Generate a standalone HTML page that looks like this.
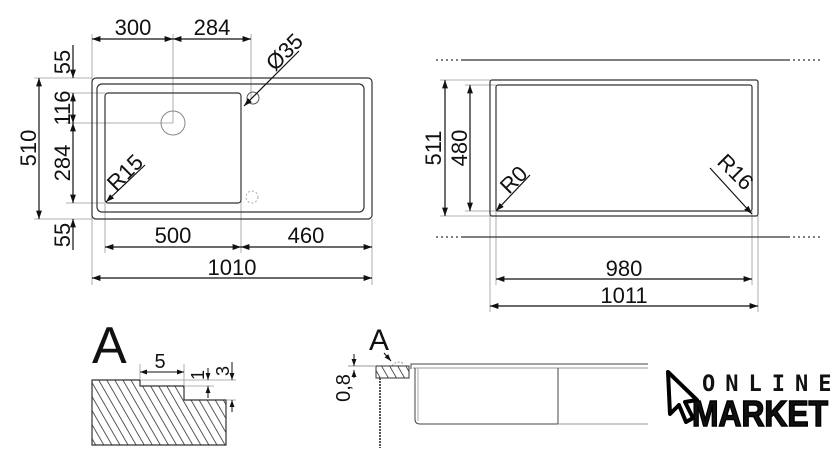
<!DOCTYPE html>
<html><head><meta charset="utf-8"><style>
body{margin:0;background:#fff;width:840px;height:470px;overflow:hidden}
svg{display:block}
text{font-family:"Liberation Sans",sans-serif;fill:#111}
</style></head><body>
<svg width="840" height="470" viewBox="0 0 840 470" xmlns="http://www.w3.org/2000/svg">
<defs>
<marker id="a" viewBox="0 0 10 10" refX="10" refY="5" markerWidth="7" markerHeight="7" orient="auto-start-reverse"><path d="M0,1.5 L10,5 L0,8.5z" fill="#111"/></marker>
<pattern id="h" width="7" height="7" patternUnits="userSpaceOnUse" patternTransform="rotate(-30)"><line x1="0" y1="0" x2="0" y2="7" stroke="#222" stroke-width="1.5"/></pattern>
</defs>
<g fill="none" stroke="#999" stroke-width="0.8">
<line x1="92" y1="34" x2="92" y2="285"/><line x1="173" y1="34" x2="173" y2="123"/><line x1="251" y1="34" x2="251" y2="98"/>
<line x1="66" y1="123" x2="173" y2="123"/><line x1="66" y1="93" x2="105" y2="93"/><line x1="66" y1="203" x2="105" y2="203"/>
<line x1="34" y1="78" x2="92" y2="78"/><line x1="34" y1="219" x2="92" y2="219"/>
<line x1="105" y1="203" x2="105" y2="253"/><line x1="241" y1="110" x2="241" y2="253"/><line x1="372" y1="219" x2="372" y2="285"/>
<line x1="440" y1="80" x2="490" y2="80"/><line x1="440" y1="216" x2="490" y2="216"/><line x1="465" y1="85" x2="496" y2="85"/><line x1="465" y1="211" x2="496" y2="211"/>
<line x1="490" y1="216" x2="490" y2="312"/><line x1="758" y1="216" x2="758" y2="312"/><line x1="496" y1="211" x2="496" y2="285"/><line x1="752" y1="211" x2="752" y2="285"/>
</g>
<g fill="none" stroke="#333" stroke-width="1.2">
<rect x="92" y="78" width="280" height="141" rx="4"/>
<rect x="97" y="84" width="267" height="128" rx="5"/>
<rect x="105" y="93" width="136" height="110" rx="3"/>
<rect x="490" y="80" width="268" height="136" rx="2"/>
<rect x="496" y="85" width="256" height="126" rx="2"/>
</g>
<circle cx="173" cy="123" r="12" fill="none" stroke="#888"/>
<circle cx="253" cy="98" r="6" fill="none" stroke="#555"/>
<circle cx="252" cy="197" r="6" fill="none" stroke="#aaa" stroke-dasharray="2 2"/>
<g stroke="#111" stroke-width="1.2" fill="none" marker-start="url(#a)" marker-end="url(#a)">
<line x1="92" y1="39" x2="173" y2="39"/><line x1="173" y1="39" x2="251" y2="39"/>
<line x1="73" y1="93" x2="73" y2="123"/><line x1="73" y1="123" x2="73" y2="203"/>
<line x1="39" y1="78" x2="39" y2="219"/>
<line x1="105" y1="247" x2="241" y2="247"/><line x1="241" y1="247" x2="372" y2="247"/>
<line x1="92" y1="278" x2="372" y2="278"/>
<line x1="445" y1="80" x2="445" y2="216"/><line x1="470" y1="85" x2="470" y2="211"/>
<line x1="496" y1="279" x2="752" y2="279"/><line x1="490" y1="306" x2="758" y2="306"/>
</g>
<g stroke="#111" stroke-width="1.2" fill="none" marker-end="url(#a)">
<line x1="73" y1="45" x2="73" y2="78"/><line x1="73" y1="250" x2="73" y2="219"/>
<line x1="299" y1="51" x2="244" y2="106"/>
<line x1="145" y1="165" x2="106" y2="202"/>
<line x1="530" y1="175" x2="496" y2="211"/><line x1="710" y1="168" x2="752" y2="214"/>
</g>
<g stroke="#333" stroke-width="1.2">
<line x1="433" y1="60" x2="820" y2="60" /><line x1="433" y1="237" x2="820" y2="237"/>
</g>
<g stroke="#fff" stroke-width="2" stroke-dasharray="3 2">
<line x1="433" y1="60" x2="462" y2="60"/><line x1="790" y1="60" x2="820" y2="60"/>
<line x1="433" y1="237" x2="462" y2="237"/><line x1="790" y1="237" x2="820" y2="237"/>
</g>
<g font-size="22">
<text x="133" y="35" text-anchor="middle">300</text><text x="212" y="35" text-anchor="middle">284</text>
<text x="173" y="243" text-anchor="middle">500</text><text x="306" y="243" text-anchor="middle">460</text>
<text x="232" y="275" text-anchor="middle">1010</text>
<text x="624" y="276" text-anchor="middle">980</text><text x="624" y="303" text-anchor="middle">1011</text>
<text transform="translate(70,62) rotate(-90)" text-anchor="middle">55</text>
<text transform="translate(70,108) rotate(-90)" text-anchor="middle">116</text>
<text transform="translate(70,163) rotate(-90)" text-anchor="middle">284</text>
<text transform="translate(70,235) rotate(-90)" text-anchor="middle">55</text>
<text transform="translate(36,148) rotate(-90)" text-anchor="middle">510</text>
<text transform="translate(441,148) rotate(-90)" text-anchor="middle">511</text>
<text transform="translate(467,148) rotate(-90)" text-anchor="middle">480</text>
<text transform="translate(275,72) rotate(-45)">Ø35</text>
<text transform="translate(116,192) rotate(-45)">R15</text>
<text transform="translate(509,195) rotate(-45)">R0</text>
<text transform="translate(716,163) rotate(45)">R16</text>
</g>
<text x="92" y="363" font-size="52">A</text>
<path d="M92,380 H140 V386 H184 V400 H226 V445 H92Z" fill="url(#h)" stroke="#333" stroke-width="1.2"/>
<g stroke="#999" stroke-width="0.8"><line x1="140" y1="364" x2="140" y2="380"/><line x1="184" y1="364" x2="184" y2="386"/><line x1="184" y1="386" x2="214" y2="386"/><line x1="140" y1="380" x2="236" y2="380"/><line x1="226" y1="400" x2="236" y2="400"/></g>
<g stroke="#111" stroke-width="1" fill="none" marker-start="url(#a)" marker-end="url(#a)"><line x1="140" y1="372" x2="184" y2="372"/></g>
<g stroke="#111" stroke-width="1" marker-end="url(#a)"><line x1="208" y1="368" x2="208" y2="380"/><line x1="208" y1="398" x2="208" y2="386"/><line x1="232" y1="362" x2="232" y2="380"/><line x1="232" y1="412" x2="232" y2="400"/></g>
<text x="160" y="368" font-size="20" text-anchor="middle">5</text>
<text transform="translate(204,375) rotate(-90)" font-size="18" text-anchor="middle">1</text>
<text transform="translate(229,371) rotate(-90)" font-size="18" text-anchor="middle">3</text>
<text x="369" y="350" font-size="30">A</text>
<line x1="384" y1="353" x2="391" y2="361" stroke="#111" marker-end="url(#a)"/>
<path d="M392,366 A8,8 0 0 1 404,364" fill="none" stroke="#999" stroke-dasharray="2 1.5"/>
<rect x="376" y="366" width="33" height="12" fill="url(#h)" stroke="#333"/>
<line x1="380" y1="378" x2="380" y2="448" stroke="#555" stroke-width="2" stroke-dasharray="2 1"/>
<line x1="348" y1="366" x2="376" y2="366" stroke="#999"/>
<g stroke="#111" stroke-width="1" marker-end="url(#a)"><line x1="354" y1="354" x2="354" y2="366"/><line x1="354" y1="378" x2="354" y2="370"/></g>
<text transform="translate(350,388) rotate(-90)" font-size="20" text-anchor="middle">0,8</text>
<g fill="none" stroke="#444" stroke-width="1">
<path d="M411,369 V364 H648"/><line x1="413" y1="368" x2="648" y2="368" stroke="#999"/>
<path d="M415,368 V419 Q415,424 420,424 H558 V368"/><line x1="418" y1="368" x2="418" y2="421" stroke="#aaa"/>
<line x1="558" y1="424" x2="648" y2="424" stroke="#999"/>
</g>
<path d="M668,372 L697,400 L685,402 L693,418 L686,422 L679,405 L670,414Z" fill="none" stroke="#000" stroke-width="4" stroke-linejoin="round"/>
<text x="702" y="391" font-size="22" font-weight="bold" letter-spacing="10" style="font-family:'DejaVu Sans Mono',monospace">ONLINE</text>
<text x="692" y="426" font-size="36" font-weight="bold" textLength="136" lengthAdjust="spacingAndGlyphs" stroke="#000" stroke-width="1.5" style="font-family:'Liberation Sans Narrow','Liberation Sans',sans-serif">MARKET</text>
</svg>
</body></html>
